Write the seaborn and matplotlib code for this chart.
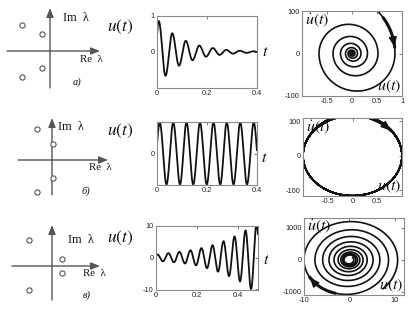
import numpy as np
import pandas as pd
import matplotlib
matplotlib.use("Agg")
import matplotlib.pyplot as plt
import seaborn as sns

# ---------------- data ----------------
# poles (Re, Im) for the three cases (arbitrary units, ~pixels)
pole_re_a = [-28, -8, -8, -28]
pole_im_a = [26, 17, -17, -26]
pole_re_b = [-15, 1, 1, -15]
pole_im_b = [31, 16, -18, -32]
pole_re_c = [-23, 10, 10, -23]
pole_im_c = [26, 7, -7, -24]

# successive extrema of u(t): times and values (first entry lies before t=0)
ext_t_a = [-0.020, 0.007, 0.034, 0.061, 0.088, 0.115, 0.142, 0.169, 0.196,
           0.223, 0.250, 0.277, 0.304, 0.331, 0.358, 0.385, 0.412]
ext_u_a = [-1.60, 0.86, -0.66, 0.52, -0.38, 0.31, -0.23, 0.18, -0.13,
           0.11, -0.08, 0.06, -0.045, 0.035, -0.025, 0.02, -0.015]

ext_t_b = [-0.016, 0.011, 0.038, 0.065, 0.092, 0.118, 0.145, 0.172, 0.199,
           0.226, 0.253, 0.279, 0.306, 0.333, 0.360, 0.387, 0.414]
ext_u_b = [-1.0, 1.0, -1.0, 1.0, -1.0, 1.0, -1.0, 1.0, -1.0,
           1.0, -1.0, 1.0, -1.0, 1.0, -1.0, 1.0, -1.0]

ext_t_c = [-0.020, 0.007, 0.034, 0.061, 0.088, 0.115, 0.142, 0.169, 0.196,
           0.223, 0.250, 0.277, 0.304, 0.331, 0.358, 0.385, 0.412, 0.439,
           0.466, 0.493, 0.520]
ext_u_c = [-0.9, 0.95, -1.2, 1.4, -1.5, 1.8, -1.9, 2.3, -2.5, 3.0, -3.4,
           3.9, -4.5, 5.2, -5.9, 6.7, -7.6, 8.6, -10.0, 10.6, -11.5]

# axis limits / ticks
ts_xlim = [(0, 0.4), (0, 0.4), (0, 0.5)]
ts_ylim = [(-1, 1), (-1.02, 1.02), (-10.3, 10)]
ts_xticks = [[0, 0.2, 0.4], [0, 0.2, 0.4], [0, 0.2, 0.4]]
ts_xticklabels = [["0", "0.2", "0.4"], ["0", "0.2", "0.4"], ["0", "0.2", "0.4"]]
ts_yticks = [[0, 1], [0], [-10, 0, 10]]
ts_yticklabels = [["0", "1"], ["0"], ["-10", "0", "10"]]

ph_xlim = [(-1, 1), (-1, 1), (-10, 12)]
ph_ylim = [(-100, 100), (-117, 110), (-1100, 1310)]
ph_xticks = [[-0.5, 0, 0.5, 1], [-0.5, 0, 0.5], [-10, 0, 10]]
ph_xticklabels = [["-0.5", "0", "0.5", "1"], ["-0.5", "0", "0.5"], ["-10", "0", "10"]]
ph_yticks = [[-100, 0, 100], [-100, 0, 100], [-1000, 0, 1000]]
ph_yticklabels = [["-100", "0", "100"], ["-100", "0", "100"], ["-1000", "0", "1000"]]
# times on the trajectory where the direction arrow is drawn (start, end)
arrow_t = [(0.0015, 0.0063), (0.0008, 0.0052), (0.4545, 0.4615)]

case_labels = ["а)", "б)", "в)"]

# ---------------- helpers ----------------
def build_curve(ext_t, ext_u, n=60):
    ts, us, ds = [], [], []
    for i in range(len(ext_t) - 1):
        t0, t1 = ext_t[i], ext_t[i + 1]
        u0, u1 = ext_u[i], ext_u[i + 1]
        s = np.linspace(0, 1, n, endpoint=False)
        ts.append(t0 + s * (t1 - t0))
        us.append(u0 + (u1 - u0) * (1 - np.cos(np.pi * s)) / 2)
        ds.append((u1 - u0) * np.pi / (2 * (t1 - t0)) * np.sin(np.pi * s))
    return pd.DataFrame({"t": np.concatenate(ts), "u": np.concatenate(us),
                         "du": np.concatenate(ds)})

W, H = 418, 309
def rect(l, r, t, b):
    return [l / W, 1 - b / H, (r - l) / W, (b - t) / H]

sns.set_theme(style="white")
plt.rcParams["mathtext.fontset"] = "stix"
plt.rcParams["font.family"] = ["Liberation Sans", "DejaVu Sans"]

fig = plt.figure(figsize=(W / 100, H / 100), dpi=100)
fig.patch.set_facecolor("white")

frame_col = "#8a8a8a"
line_col = "#111111"

def style_axes(ax):
    for sp in ax.spines.values():
        sp.set_color(frame_col)
        sp.set_linewidth(0.8)
    ax.tick_params(direction="in", length=2.5, width=0.6, color="#666666",
                   labelsize=5.3, labelcolor="#222222", pad=1.5,
                   top=True, right=True)
    ax.set_xlabel("")
    ax.set_ylabel("")
    ax.set_facecolor("white")

# ---------------- pole diagrams ----------------
pole_sets = [(pole_re_a, pole_im_a), (pole_re_b, pole_im_b), (pole_re_c, pole_im_c)]
pole_rects = [(0, 140, 0, 100), (0, 140, 103, 205), (0, 140, 205, 309)]
pole_origin = [(50, 51), (52, 160), (52, 266)]
axis_ext = [(-43, 50, -37, 43), (-34, 56, -35, 42), (-40, 48, -34, 41)]
im_pos = [(63, 18), (58, 127), (68, 240)]
re_pos = [(80, 60), (89, 167), (83, 274)]
lab_pos = [(73, 82), (82, 191), (83, 295)]

for k in range(3):
    l, r, t, b = pole_rects[k]
    ox, oy = pole_origin[k]
    ax = fig.add_axes(rect(l, r, t, b))
    ax.set_xlim(l - ox, r - ox)
    ax.set_ylim(-(b - oy), oy - t)
    ax.axis("off")
    x0, x1, y0, y1 = axis_ext[k]
    ap = dict(arrowstyle="-|>,head_length=0.45,head_width=0.18", color="#555555",
              lw=1.0, shrinkA=0, shrinkB=0)
    ax.annotate("", xy=(x1, 0), xytext=(x0, 0), arrowprops=ap)
    ax.annotate("", xy=(0, y1), xytext=(0, y0), arrowprops=ap)
    df = pd.DataFrame({"re": pole_sets[k][0], "im": pole_sets[k][1]})
    sns.scatterplot(data=df, x="re", y="im", ax=ax, s=14, facecolor="white",
                    edgecolor="#555555", linewidth=0.8, zorder=5)
    ax.set_xlabel(""); ax.set_ylabel("")
    fig.text(im_pos[k][0] / W, 1 - im_pos[k][1] / H, "Im  λ", family="Liberation Serif",
             fontsize=8.8, va="center", ha="left", color="#111111")
    fig.text(re_pos[k][0] / W, 1 - re_pos[k][1] / H, "Re  λ", family="Liberation Serif",
             fontsize=7.8, va="center", ha="left", color="#111111")
    fig.text(lab_pos[k][0] / W, 1 - lab_pos[k][1] / H, case_labels[k],
             family="Liberation Serif", style="italic", fontsize=7.5,
             va="center", ha="left", color="#111111")

# ---------------- time series and phase portraits ----------------
curves = [build_curve(ext_t_a, ext_u_a), build_curve(ext_t_b, ext_u_b),
          build_curve(ext_t_c, ext_u_c)]
ts_rects = [(157, 257, 16, 88), (157, 257, 122, 185), (156, 258, 226, 290)]
ph_rects = [(302, 402, 11, 96), (303, 402, 118, 196), (304, 404, 218, 295)]
ulab_pos = [(120, 27), (120, 131), (120, 238)]
tlab_pos = [(265, 52), (264, 157), (266, 259)]

for k in range(3):
    df = curves[k]
    df = df[(df["t"] >= 0) & (df["t"] <= ts_xlim[k][1] + 1e-9)].reset_index(drop=True)

    ax = fig.add_axes(rect(*ts_rects[k]))
    sns.lineplot(data=df, x="t", y="u", ax=ax, color=line_col, lw=1.3,
                 sort=False, estimator=None)
    ax.set_xlim(*ts_xlim[k]); ax.set_ylim(*ts_ylim[k])
    ax.set_xticks(ts_xticks[k]); ax.set_xticklabels(ts_xticklabels[k])
    ax.set_yticks(ts_yticks[k]); ax.set_yticklabels(ts_yticklabels[k])
    style_axes(ax)
    fig.text(ulab_pos[k][0] / W, 1 - ulab_pos[k][1] / H, r"$u(t)$", fontsize=12.5,
             ha="center", va="center", color="#111111")
    fig.text(tlab_pos[k][0] / W, 1 - tlab_pos[k][1] / H, r"$t$", fontsize=11.5,
             ha="center", va="center", color="#111111")

    axp = fig.add_axes(rect(*ph_rects[k]))
    sns.lineplot(data=df, x="u", y="du", ax=axp, color=line_col, lw=1.2,
                 sort=False, estimator=None)
    axp.set_xlim(*ph_xlim[k]); axp.set_ylim(*ph_ylim[k])
    axp.set_xticks(ph_xticks[k]); axp.set_xticklabels(ph_xticklabels[k])
    axp.set_yticks(ph_yticks[k]); axp.set_yticklabels(ph_yticklabels[k])
    style_axes(axp)
    # direction arrow: thickened piece of the trajectory with a head at its end
    ta, tb = arrow_t[k]
    seg = df[(df["t"] >= ta) & (df["t"] <= tb)]
    sns.lineplot(data=seg, x="u", y="du", ax=axp, color=line_col, lw=2.2,
                 sort=False, estimator=None)
    axp.set_xlabel(""); axp.set_ylabel("")
    pa = seg.iloc[-4]
    pb = seg.iloc[-1]
    axp.annotate("", xy=(pb["u"], pb["du"]), xytext=(pa["u"], pa["du"]),
                 arrowprops=dict(arrowstyle="-|>,head_length=0.5,head_width=0.2",
                                 color=line_col, lw=1.0, shrinkA=0, shrinkB=0))
    axp.text(0.03, 0.89, r"$\dot{u}(t)$", transform=axp.transAxes, fontsize=11.5,
             ha="left", va="center", color="#111111")
    axp.text(0.99, 0.015, r"$u(t)$", transform=axp.transAxes, fontsize=11.5,
             ha="right", va="bottom", color="#111111")

fig.savefig("out.png", dpi=100, facecolor="white")
